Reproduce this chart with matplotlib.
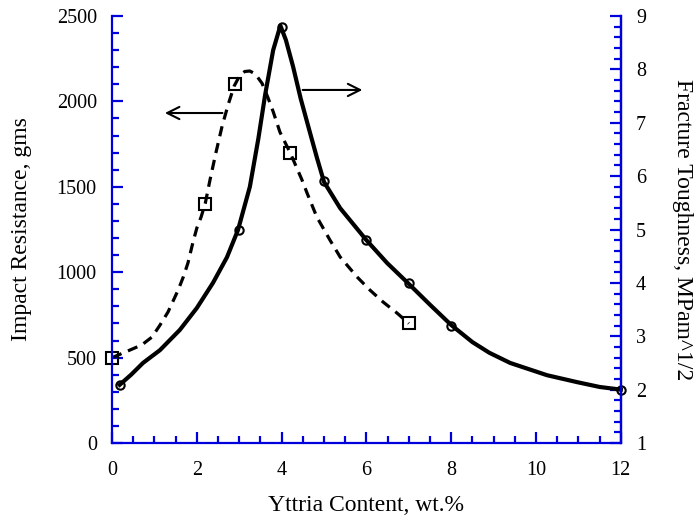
import matplotlib.pyplot as plt

plt.rcParams['font.family'] = ['Liberation Serif', 'DejaVu Serif']

# impact resistance (left axis), square markers
imp_x = [0, 2.2, 2.9, 4.2, 7.0]
imp_y = [500, 1400, 2100, 1700, 700]
# dashed curve
imp_cx = [0, 0.26, 0.7, 0.94, 1.13, 1.32, 1.56, 1.68, 1.79, 1.91, 2.0, 2.1, 2.2, 2.31, 2.45,
          2.6, 2.75, 2.88, 3.02, 3.13, 3.25, 3.38, 3.54, 3.68, 3.8, 3.96, 4.2, 4.48, 4.6,
          4.83, 5.14, 5.38, 5.78, 6.08, 6.39, 6.72, 7.0]
imp_cy = [500, 527, 574, 620, 690, 767, 896, 972, 1054, 1177, 1259, 1323, 1405, 1540, 1700,
          1860, 1990, 2090, 2155, 2175, 2178, 2160, 2105, 2020, 1940, 1820, 1700, 1540, 1463,
          1323, 1188, 1089, 972, 896, 826, 761, 700]

# fracture toughness (right axis), circle markers
tough_x = [0.18, 3, 4, 5, 6, 7, 8, 12]
tough_y = [2.09, 5.0, 8.8, 5.9, 4.8, 4.0, 3.2, 2.0]
# solid curve
tough_cx = [0.18, 0.45, 0.73, 1.13, 1.6, 2.0, 2.38, 2.71, 2.97, 3.25, 3.45, 3.61, 3.8, 3.97,
            4.1, 4.27, 4.45, 4.67, 4.83, 5.0, 5.38, 6.0, 6.49, 7.0, 7.5, 8.0, 8.5, 8.9,
            9.39, 10.26, 10.97, 11.5, 12.0]
tough_cy = [2.09, 2.28, 2.5, 2.74, 3.12, 3.53, 4.0, 4.48, 4.99, 5.8, 6.7, 7.52, 8.36, 8.82,
            8.55, 8.05, 7.45, 6.81, 6.35, 5.89, 5.4, 4.8, 4.37, 3.98, 3.59, 3.21, 2.89, 2.69,
            2.5, 2.27, 2.14, 2.05, 2.0]

blue = '#0000dd'

fig = plt.figure(figsize=(6.96, 5.21), dpi=100)
ax = fig.add_axes([0.161, 0.1497, 0.731, 0.8196])
ax2 = ax.twinx()

ax.plot(imp_cx, imp_cy, color='black', lw=2.3, ls=(0, (3.2, 2.2)), clip_on=False)
ax.plot(imp_x, imp_y, ls='none', marker='s', ms=9, mfc='none', mec='black', mew=1.5, clip_on=False)

ax2.plot(tough_cx, tough_cy, color='black', lw=3.0, clip_on=False)
ax2.plot(tough_x, tough_y, ls='none', marker='o', ms=6, mfc='none', mec='black', mew=1.5, clip_on=False)

ax.set_xlim(0, 12)
ax.set_ylim(0, 2500)
ax2.set_ylim(1, 9)
ax.set_xticks(range(0, 13, 2))
ax.set_xticks([i * 0.5 for i in range(25)], minor=True)
ax.set_yticks(range(0, 2501, 500))
ax.set_yticks(range(0, 2501, 100), minor=True)
ax2.set_yticks(range(1, 10))
ax2.set_yticks([1 + i * 0.2 for i in range(41)], minor=True)

for a in (ax, ax2):
    a.spines['top'].set_visible(False)
    for s in a.spines.values():
        s.set_color(blue)
        s.set_linewidth(1.6)
    a.tick_params(which='both', direction='in', color=blue, width=1.6, labelsize=14.5, pad=11)
    a.tick_params(which='major', length=8)
    a.tick_params(which='minor', length=5)
ax.tick_params(axis='x', which='both', pad=13)
ax2.spines['left'].set_visible(False)
ax2.spines['bottom'].set_visible(False)

ax.set_xlabel('Yttria Content, wt.%', fontsize=17, labelpad=11)
ax.set_ylabel('Impact Resistance, gms', fontsize=17, labelpad=18)
ax2.set_ylabel('Fracture Toughness, MPam^1/2', fontsize=17, rotation=270, labelpad=34)

ax.annotate('', xy=(1.18, 1932), xytext=(2.67, 1932),
            arrowprops=dict(arrowstyle='->', lw=1.5, color='black', mutation_scale=22))
ax.annotate('', xy=(5.97, 2067), xytext=(4.43, 2067),
            arrowprops=dict(arrowstyle='->', lw=1.5, color='black', mutation_scale=22))

fig.savefig('out.png', dpi=100)
